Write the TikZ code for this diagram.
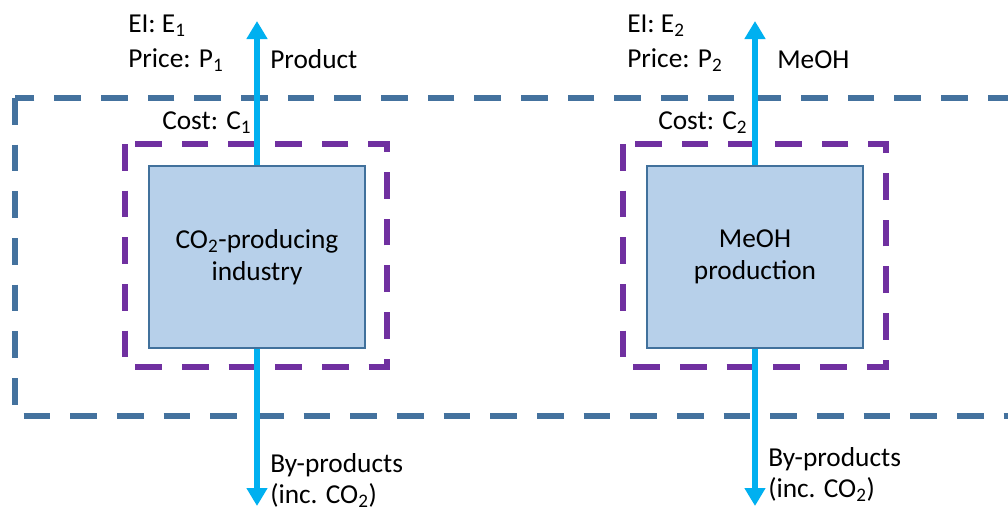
\documentclass[tikz,border=0pt]{standalone}
\usepackage{fontspec}
\setmainfont{Carlito}
\usetikzlibrary{arrows.meta,positioning}
\definecolor{boxfill}{RGB}{183,208,234}
\definecolor{boxedge}{RGB}{65,113,156}
\definecolor{plantline}{RGB}{112,48,160}
\definecolor{systemline}{RGB}{68,114,158}
\definecolor{flowblue}{RGB}{0,176,240}
\tikzset{
  unit node/.style={draw=boxedge,fill=boxfill,line width=1.1pt,
    minimum width=162pt,minimum height=136.5pt,inner sep=0pt,align=center,
    font=\fontsize{20.5}{24}\selectfont},
  plant boundary/.style={draw=plantline,line width=4.5pt,
    dash pattern=on 20pt off 15pt},
  system boundary/.style={draw=systemline,line width=4.5pt,
    dash pattern=on 20pt off 15pt},
  flow arrow/.style={-{Triangle[length=13.5pt,width=15pt]},line width=3.8pt,
    flowblue},
  flow label/.style={font=\fontsize{20.5}{23}\selectfont,inner sep=0pt,
    anchor=base west,align=left},
}

\begin{document}
\begin{tikzpicture}[x=0.75pt,y=-0.75pt]
  \clip (0,0) rectangle (1008,508);
  \fill[white] (0,0) rectangle (1008,508);

  % Overall system boundary (runs off the right edge)
  \draw[system boundary] (15,98) rectangle (1060,416);

  % CO2-producing industry
  \draw[plant boundary] (125,144) rectangle (387,367);
  \node[unit node] (ind) at (257,257) {CO\textsubscript{2}-producing\\industry};
  \coordinate (indTop) at (257,21);
  \coordinate (indBot) at (257,506);
  \draw[flow arrow] (ind.north) -- (indTop);
  \draw[flow arrow] (ind.south) -- (indBot);
  \node[flow label] (ei1) at (128,32) {EI: E\textsubscript{1}};
  \node[flow label] (price1) at (128,67) {Price: P\textsubscript{1}};
  \node[flow label] (prod1) at (270,68) {Product};
  \node[flow label] (cost1) at (162,129) {Cost: C\textsubscript{1}};
  \node[flow label] (byp1) at (270,503) {By-products\\(inc. CO\textsubscript{2})};

  % MeOH production
  \draw[plant boundary] (623,144) rectangle (886,367);
  \node[unit node] (meoh) at (755,257) {MeOH\\production};
  \coordinate (meohTop) at (755,21);
  \coordinate (meohBot) at (755,506);
  \draw[flow arrow] (meoh.north) -- (meohTop);
  \draw[flow arrow] (meoh.south) -- (meohBot);
  \node[flow label] (ei2) at (627,32) {EI: E\textsubscript{2}};
  \node[flow label] (price2) at (627,67) {Price: P\textsubscript{2}};
  \node[flow label] (prod2) at (777,68) {MeOH};
  \node[flow label] (cost2) at (658,129) {Cost: C\textsubscript{2}};
  \node[flow label] (byp2) at (768,497) {By-products\\(inc. CO\textsubscript{2})};
\end{tikzpicture}
\end{document}
